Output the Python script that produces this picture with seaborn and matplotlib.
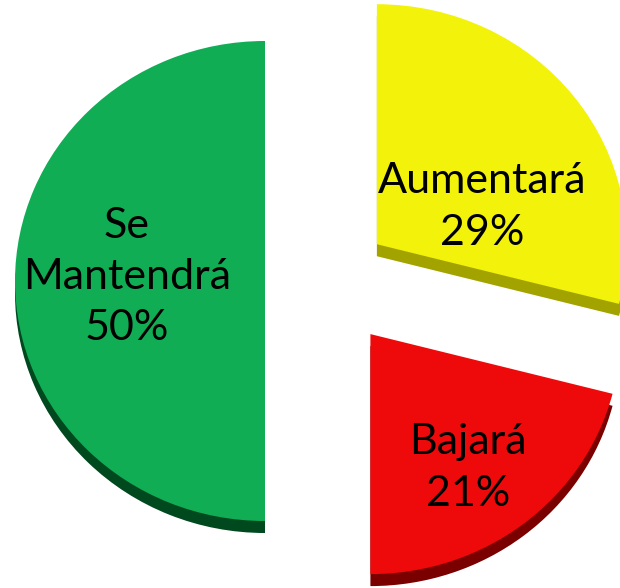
import matplotlib
matplotlib.use("Agg")
import matplotlib.pyplot as plt
import seaborn as sns

# Data
labels = ["Aumentará", "Bajará", "Se\nMantendrá"]
values = [29, 21, 50]
explode = [0.25, 0.28, 0.25]
face_colors = sns.color_palette(["#F2F20A", "#EE0A0A", "#10AD55"])
side_colors = sns.color_palette(["#A3A300", "#7A0000", "#00481E"])

sns.set_theme(style="white")
plt.rcParams['font.family'] = ['Lato', 'DejaVu Sans']

fig = plt.figure(figsize=(6.2, 5.88), dpi=100)
ax = fig.add_axes([0, 0, 1, 1])

# darker copy shifted down gives the slab thickness
ax.pie(values, colors=side_colors, explode=explode, startangle=90,
       counterclock=False, center=(0, -0.05),
       wedgeprops={'linewidth': 0})
wedges, _ = ax.pie(values, colors=face_colors, explode=explode, startangle=90,
                   counterclock=False, center=(0, 0),
                   wedgeprops={'linewidth': 0})

# pie center / radii in pixels, used to stretch the pie into an ellipse
cx, cy, rx, ry = 327.5, 281, 250, 240
ax.set_aspect('auto')
ax.set_xlim((0 - cx) / rx, (620 - cx) / rx)
ax.set_ylim((cy - 588) / ry, cy / ry)
ax.axis('off')

# label spots (pixel positions in the picture)
label_pos = [(482, 207), (468, 468), (127, 277)]
for lab, val, (px, py) in zip(labels, values, label_pos):
    ax.text((px - cx) / rx, (cy - py) / ry, f"{lab}\n{val}%",
            ha='center', va='center', fontsize=31, color='black',
            linespacing=1.42)

fig.savefig("out.png", dpi=100)
